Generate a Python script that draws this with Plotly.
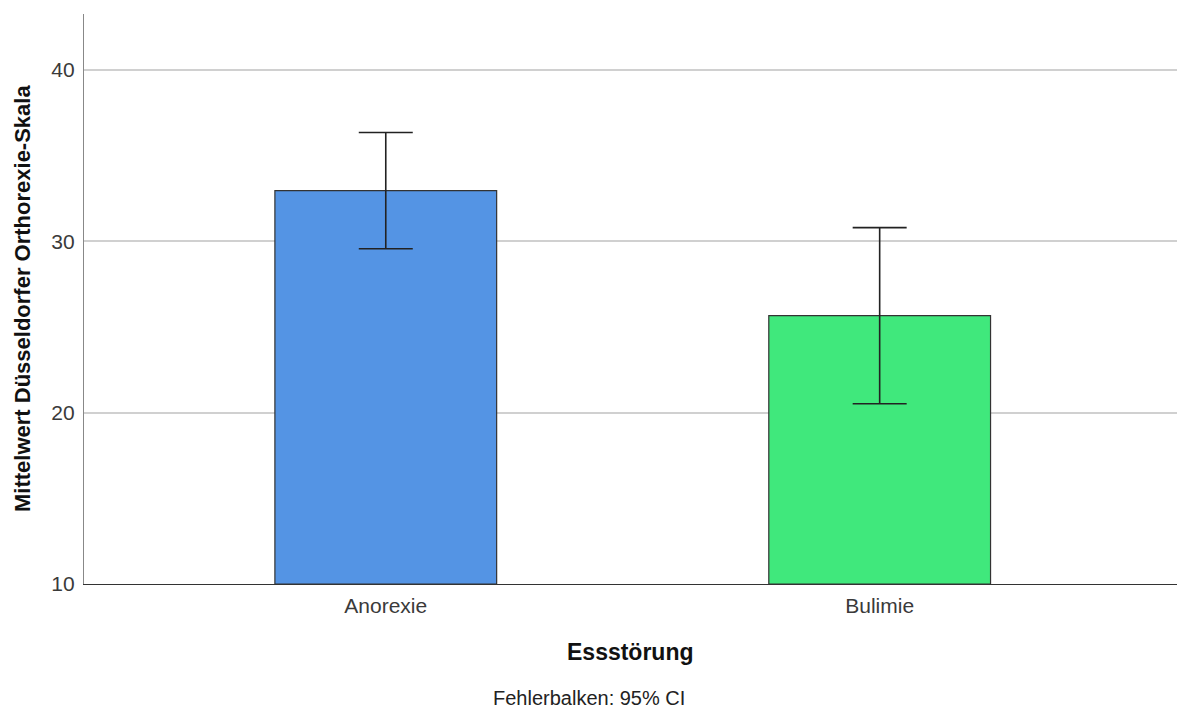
import plotly.graph_objects as go

categories = ["Anorexie", "Bulimie"]
means = [32.96, 25.66]
ci_half = [3.39, 5.14]
colors = ["#5494E4", "#40E87C"]

x_pos = list(range(len(categories)))

PLOT_L, PLOT_T, PLOT_B = 84, 14, 584
W, H = 1177, 709
plot_w = W - PLOT_L
plot_h = PLOT_B - PLOT_T

fig = go.Figure()
fig.add_trace(go.Bar(
    x=x_pos, y=[m - 10 for m in means], base=10,
    width=0.449,
    marker=dict(color=colors, line=dict(color="#333333", width=1.2)),
    error_y=dict(type="data", array=ci_half, visible=True,
                 color="#222222", thickness=1.6, width=27),
    hoverinfo="skip",
))

fig.update_layout(
    width=W, height=H,
    margin=dict(l=PLOT_L, r=0, t=PLOT_T, b=H - PLOT_B),
    plot_bgcolor="white", paper_bgcolor="white",
    showlegend=False,
    font=dict(family="Liberation Sans, Arial, sans-serif", color="#333333", size=22),
    xaxis=dict(
        range=[-0.611, 1.602],
        tickvals=x_pos, ticktext=categories,
        showgrid=False, zeroline=False,
        showline=True, linecolor="#333333", linewidth=1.3,
        ticks="", ticklabelstandoff=3,
        tickfont=dict(size=21, color="#3a3a3a"),
    ),
    yaxis=dict(
        range=[10, 43.27],
        tickvals=[10, 20, 30, 40],
        showgrid=True, gridcolor="#D0D0D0", gridwidth=1.5,
        zeroline=False,
        showline=True, linecolor="#888888", linewidth=1.3,
        ticks="", ticklabelstandoff=4,
        tickfont=dict(size=21, color="#3a3a3a"),
    ),
    annotations=[
        dict(text="<b>Essstörung</b>", xref="paper", yref="paper",
             x=0.5, y=-(652 - PLOT_B) / plot_h, xanchor="center", yanchor="middle",
             showarrow=False, font=dict(size=23, color="#111111")),
        dict(text="<b>Mittelwert Düsseldorfer Orthorexie-Skala</b>", xref="paper", yref="paper",
             x=-(PLOT_L - 22) / plot_w, y=(584 - 299) / plot_h, xanchor="center", yanchor="middle",
             textangle=-90, showarrow=False, font=dict(size=22, color="#111111")),
        dict(text="Fehlerbalken: 95% CI", xref="paper", yref="paper",
             x=(588.5 - PLOT_L) / plot_w, y=-(698 - PLOT_B) / plot_h, xanchor="center", yanchor="middle",
             showarrow=False, font=dict(size=20, color="#222222")),
    ],
)

fig.write_html("out.html", config={"displayModeBar": False},
               post_script="document.body.style.margin='0px';document.body.style.overflow='hidden';")
